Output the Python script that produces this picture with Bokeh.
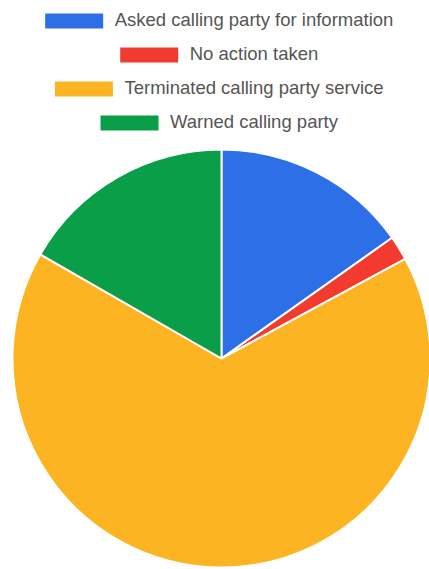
import math
from bokeh.plotting import figure
from bokeh.models import ColumnDataSource, Legend, LegendItem, Range1d
from bokeh.embed import file_html
from bokeh.resources import INLINE

categories = ["Asked calling party for information", "No action taken",
              "Terminated calling party service", "Warned calling party"]
values = [15.2, 1.9, 66.2, 16.7]
colors = ["#2d6fe6", "#f23a2e", "#fcb423", "#0a9e48"]

total = sum(values)
starts, ends = [], []
cum = 0.0
for v in values:
    starts.append(math.pi / 2 - 2 * math.pi * cum / total)
    cum += v
    ends.append(math.pi / 2 - 2 * math.pi * cum / total)

src = ColumnDataSource(dict(cat=categories, val=values, color=colors,
                            start=starts, end=ends))

W, H = 429, 569
cx, cy = 221, 358
p = figure(width=W, height=H, output_backend="svg", toolbar_location=None,
           min_border=0, outline_line_color=None,
           x_range=Range1d(-cx, W - cx), y_range=Range1d(-(H - cy), cy))
p.axis.visible = False
p.grid.visible = False

R = 209
r = p.wedge(x=0, y=0, radius=R, start_angle="start", end_angle="end",
            direction="clock", fill_color="color", line_color="white",
            line_width=2, source=src)

margins = [9, 43, 77, 111]
for i in range(len(categories)):
    lg = Legend(items=[LegendItem(label=categories[i], renderers=[r], index=i)],
                location="top_center", orientation="horizontal",
                glyph_width=75, glyph_height=21, label_standoff=4,
                label_text_font="Liberation Sans", label_text_font_size="18.5px",
                label_text_color="#555555", border_line_color=None,
                background_fill_alpha=0, padding=0, spacing=0,
                label_height=21, margin=margins[i])
    p.add_layout(lg, "center")

open("out.html", "w").write(file_html(p, INLINE))
